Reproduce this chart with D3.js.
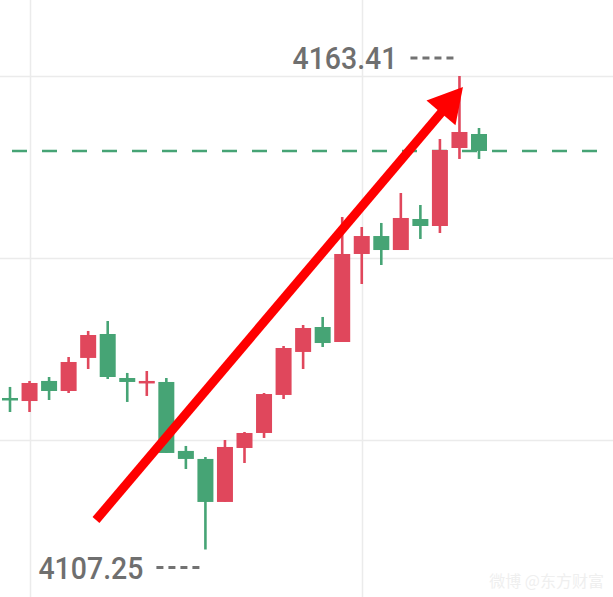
<!DOCTYPE html>
<html>
<head>
<meta charset="utf-8">
<script src="https://cdn.jsdelivr.net/npm/d3@7"></script>
<style>
  html, body { margin: 0; padding: 0; background: #fff; }
  svg { display: block; }
</style>
</head>
<body>
<svg id="chart"></svg>
<script>
// candle values (index order, left to right)
var opens  = [4125.22, 4124.86, 4127.24, 4126.05, 4129.97, 4132.81, 4127.59, 4127.12, 4127.12, 4118.94,
              4117.99, 4112.89, 4119.29, 4121.07, 4125.58, 4130.68, 4133.64, 4131.86, 4142.30, 4144.43,
              4142.77, 4146.45, 4145.62, 4154.87, 4156.53];
var highs  = [4126.53, 4127.24, 4127.71, 4130.08, 4133.17, 4134.35, 4128.19, 4128.42, 4127.59, 4119.53,
              4118.22, 4120.24, 4121.19, 4125.81, 4131.39, 4133.88, 4134.83, 4146.69, 4145.50, 4145.98,
              4149.53, 4148.11, 4155.94, 4163.41, 4157.24];
var lows   = [4123.56, 4123.56, 4124.98, 4125.81, 4128.66, 4127.47, 4124.75, 4125.46, 4118.70, 4116.80,
              4107.25, 4112.89, 4117.51, 4120.48, 4125.10, 4128.66, 4131.27, 4131.86, 4138.74, 4140.99,
              4142.77, 4144.08, 4144.79, 4153.57, 4153.57];
var closes = [4124.98, 4127.00, 4126.05, 4129.49, 4132.69, 4127.71, 4127.12, 4127.24, 4118.70, 4117.99,
              4112.89, 4119.41, 4121.07, 4125.69, 4131.15, 4133.52, 4131.74, 4142.30, 4144.43, 4142.77,
              4146.57, 4145.62, 4154.63, 4156.77, 4154.52];

var gridPrices = [4163.4, 4141.8, 4120.2];
var gridIndex = [1, 18];

var maxLabel = "4163.41", maxIndex = 23;
var minLabel = "4107.25", minIndex = 10;

// hand-drawn arrow, in (candle index, price)
var arrowFrom = [4.4, 4110.75];
var arrowTo = [23.18, 4162.11];

var width = 613, height = 597;
var upColor = "#e0475c", downColor = "#46a475";

var svg = d3.select("#chart").attr("width", width).attr("height", height);

var x = d3.scaleLinear().domain([0, 24]).range([10, 479]);
var y = d3.scaleLinear().domain([4107.25, 4163.41]).range([549.5, 76]);

var candles = opens.map(function(o, i) {
    return { i: i, open: o, high: highs[i], low: lows[i], close: closes[i] };
});

// grid
svg.selectAll(".hgrid").data(gridPrices).enter().append("line")
    .attr("x1", 0).attr("x2", width)
    .attr("y1", function(d) { return Math.round(y(d)) + 0.5; })
    .attr("y2", function(d) { return Math.round(y(d)) + 0.5; })
    .attr("stroke", "#ebebeb").attr("stroke-width", 1.5);

svg.selectAll(".vgrid").data(gridIndex).enter().append("line")
    .attr("y1", 0).attr("y2", height)
    .attr("x1", function(d) { return Math.round(x(d)) + 0.5; })
    .attr("x2", function(d) { return Math.round(x(d)) + 0.5; })
    .attr("stroke", "#ebebeb").attr("stroke-width", 1.5);

// last price line
var last = closes[closes.length - 1];
svg.append("line")
    .attr("x1", 12).attr("x2", 605)
    .attr("y1", y(last)).attr("y2", y(last))
    .attr("stroke", downColor).attr("stroke-width", 2.5)
    .attr("stroke-dasharray", "15,15");

// candles
var g = svg.selectAll(".candle").data(candles).enter().append("g");

g.append("line")
    .attr("x1", function(d) { return x(d.i); })
    .attr("x2", function(d) { return x(d.i); })
    .attr("y1", function(d) { return y(d.high); })
    .attr("y2", function(d) { return y(d.low); })
    .attr("stroke-width", 2.6)
    .attr("stroke", function(d) { return d.close >= d.open ? upColor : downColor; });

g.append("rect")
    .attr("x", function(d) { return x(d.i) - 8; })
    .attr("width", 16)
    .attr("y", function(d) { return y(Math.max(d.open, d.close)); })
    .attr("height", function(d) { return Math.max(2.5, Math.abs(y(d.open) - y(d.close))); })
    .attr("fill", function(d) { return d.close >= d.open ? upColor : downColor; });

// max / min labels
function priceLabel(text, idx, cy) {
    var right = x(idx) - 6;
    svg.append("line")
        .attr("x1", right - 43).attr("x2", right)
        .attr("y1", cy).attr("y2", cy)
        .attr("stroke", "#727272").attr("stroke-width", 2.8)
        .attr("stroke-dasharray", "7,5");
    svg.append("text")
        .attr("x", right - 56).attr("y", cy + 11)
        .attr("text-anchor", "end")
        .attr("font-family", "Roboto, sans-serif")
        .attr("font-weight", 500)
        .attr("font-size", 31)
        .attr("fill", "#6f6f6f")
        .attr("textLength", 105)
        .attr("lengthAdjust", "spacingAndGlyphs")
        .text(text);
}
priceLabel(maxLabel, maxIndex, y(highs[maxIndex]) - 18);
priceLabel(minLabel, minIndex, y(lows[minIndex]) + 18);

// arrow
var x0 = x(arrowFrom[0]), y0 = y(arrowFrom[1]);
var x1 = x(arrowTo[0]), y1 = y(arrowTo[1]);
var len = Math.sqrt((x1 - x0) * (x1 - x0) + (y1 - y0) * (y1 - y0));
var ux = (x1 - x0) / len, uy = (y1 - y0) / len;
var headLen = 34, headHalf = 19;
var bx = x1 - ux * headLen, by = y1 - uy * headLen;

svg.append("line")
    .attr("x1", x0).attr("y1", y0)
    .attr("x2", bx + ux * 2).attr("y2", by + uy * 2)
    .attr("stroke", "#ff0000").attr("stroke-width", 9);

svg.append("path")
    .attr("d", "M" + x1 + "," + y1 +
        "L" + (bx - uy * headHalf) + "," + (by + ux * headHalf) +
        "L" + (bx + uy * headHalf) + "," + (by - ux * headHalf) + "Z")
    .attr("fill", "#ff0000");

// faint watermark
svg.append("text")
    .attr("x", 604).attr("y", 587)
    .attr("text-anchor", "end")
    .attr("font-family", "Noto Sans CJK SC, sans-serif")
    .attr("font-size", 16)
    .attr("fill", "#efefef")
    .text("微博 @东方财富");
</script>
</body>
</html>
